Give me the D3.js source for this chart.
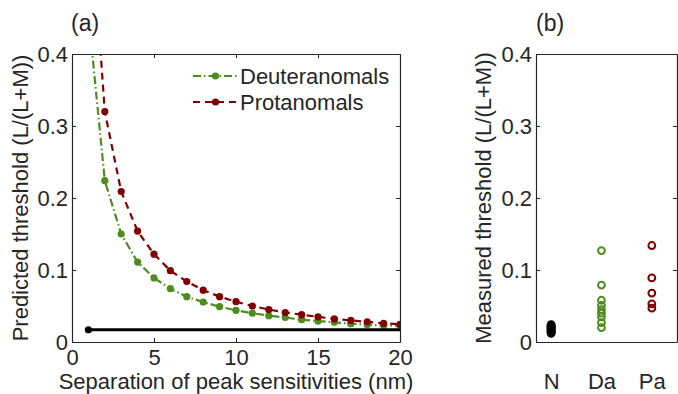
<!DOCTYPE html>
<html>
<head>
<meta charset="utf-8">
<script src="https://cdn.jsdelivr.net/npm/d3@7"></script>
<style>
  body { margin: 0; background: #fff; }
  svg text { font-family: "Liberation Sans", Arial, sans-serif; fill: #262626; }
</style>
</head>
<body>
<svg id="chart" width="678" height="394"></svg>
<script>
// separation of peak sensitivities (nm)
const separation = d3.range(1, 21);
const deuteranomals = [0.455, 0.224, 0.150, 0.111, 0.089, 0.074, 0.063, 0.0555, 0.049, 0.044,
  0.040, 0.0366, 0.034, 0.031, 0.029, 0.0273, 0.0255, 0.024, 0.023, 0.0226];
const protanomals = [0.64, 0.320, 0.209, 0.154, 0.122, 0.099, 0.084, 0.072, 0.063, 0.056,
  0.050, 0.045, 0.041, 0.038, 0.035, 0.032, 0.030, 0.028, 0.026, 0.0245];
const normalX = [1, 20];
const normalLevel = 0.017;

// measured thresholds
const groups = ['N', 'Da', 'Pa'];
const measuredN = [0.012, 0.013, 0.014, 0.015, 0.016, 0.017, 0.018, 0.019, 0.020, 0.021, 0.022, 0.023, 0.024];
const measuredDa = [0.127, 0.079, 0.058, 0.051, 0.045, 0.040, 0.035, 0.027, 0.020];
const measuredPa = [0.134, 0.089, 0.068, 0.053, 0.047];

const yTicks = [0, 0.1, 0.2, 0.3, 0.4];
const xTicks = [0, 5, 10, 15, 20];

const green = '#4d8c1f';
const red = '#800000';
const ink = '#262626';

const svg = d3.select('#chart');

const fmt = d => d === 0 ? '0' : d3.format('.1f')(d);

// box axes with inward ticks on all four sides
function box(g, x, y, xt, yt, xPad, showXTicks) {
  const [x0, x1] = x.range();
  const [y0, y1] = y.range();
  g.append('g').attr('transform', `translate(0,${y0})`)
    .call(d3.axisBottom(x).tickValues(xt).tickSizeInner(showXTicks ? -4 : 0).tickSizeOuter(0).tickPadding(xPad)
      .tickFormat((d, i) => showXTicks ? d : groups[i]));
  g.append('g').attr('transform', `translate(0,${y1})`)
    .call(d3.axisTop(x).tickValues(showXTicks ? xt : []).tickSizeInner(-4).tickSizeOuter(0).tickFormat(''));
  g.append('g').attr('transform', `translate(${x0},0)`)
    .call(d3.axisLeft(y).tickValues(yt).tickSizeInner(-4).tickSizeOuter(0).tickPadding(4).tickFormat(fmt));
  g.append('g').attr('transform', `translate(${x1},0)`)
    .call(d3.axisRight(y).tickValues(yt).tickSizeInner(-4).tickSizeOuter(0).tickFormat(''));
  g.selectAll('.domain').attr('stroke', ink).attr('stroke-width', 1.2);
  g.selectAll('.tick line').attr('stroke', ink);
  g.selectAll('.tick text').style('font-size', '22px').attr('fill', ink);
}

// ---- panel (a)
const xa = d3.scaleLinear().domain([0, 20]).range([72, 400]);
const ya = d3.scaleLinear().domain([0, 0.4]).range([342, 54]);

svg.append('defs').append('clipPath').attr('id', 'clipA')
  .append('rect').attr('x', 72).attr('y', 54).attr('width', 328).attr('height', 288);

const ga = svg.append('g');
box(ga, xa, ya, xTicks, yTicks, 7, true);

const plotA = ga.append('g').attr('clip-path', 'url(#clipA)');
const line = d3.line().x(d => xa(d[0])).y(d => ya(d[1]));

const series = [
  { name: 'Deuteranomals', values: deuteranomals, color: green, dash: '8,3,1.5,3' },
  { name: 'Protanomals', values: protanomals, color: red, dash: '7,5' }
];

series.forEach(s => {
  const pts = separation.map((x, i) => [x, s.values[i]]);
  plotA.append('path').datum(pts).attr('d', line)
    .attr('fill', 'none').attr('stroke', s.color).attr('stroke-width', 2.2)
    .attr('stroke-dasharray', s.dash);
  plotA.selectAll(null).data(pts).enter().append('circle')
    .attr('cx', d => xa(d[0])).attr('cy', d => ya(d[1])).attr('r', 3.6)
    .attr('fill', s.color);
});

plotA.append('path').datum(normalX.map(x => [x, normalLevel])).attr('d', line)
  .attr('fill', 'none').attr('stroke', '#000').attr('stroke-width', 3.2);
plotA.append('circle').attr('cx', xa(normalX[0])).attr('cy', ya(normalLevel)).attr('r', 3.6).attr('fill', '#000');

// legend
const legend = ga.append('g').attr('transform', 'translate(193,76)');
series.forEach((s, i) => {
  const row = legend.append('g').attr('transform', `translate(0,${i * 26})`);
  row.append('line').attr('x1', 0).attr('x2', 45).attr('y1', 0).attr('y2', 0)
    .attr('stroke', s.color).attr('stroke-width', 2.2).attr('stroke-dasharray', s.dash);
  row.append('circle').attr('cx', 22.5).attr('cy', 0).attr('r', 3.6).attr('fill', s.color);
  row.append('text').attr('x', 47).attr('y', 8).style('font-size', '22px').text(s.name);
});

ga.append('text').attr('x', 236).attr('y', 389).attr('text-anchor', 'middle')
  .style('font-size', '22px').text('Separation of peak sensitivities (nm)');
ga.append('text').attr('transform', 'translate(28,198) rotate(-90)').attr('text-anchor', 'middle')
  .style('font-size', '22px').text('Predicted threshold (L/(L+M))');
ga.append('text').attr('x', 71).attr('y', 31).style('font-size', '23px').text('(a)');

// ---- panel (b)
const xb = d3.scaleLinear().domain([0.7, 3.5]).range([536, 677]);
const yb = d3.scaleLinear().domain([0, 0.4]).range([342, 54]);

const gb = svg.append('g');
box(gb, xb, yb, [1, 2, 3], yTicks, 31, false);

const measured = [
  { values: measuredN, color: '#000' },
  { values: measuredDa, color: green },
  { values: measuredPa, color: red }
];
measured.forEach((m, i) => {
  gb.selectAll(null).data(m.values).enter().append('circle')
    .attr('cx', xb(i + 1)).attr('cy', d => yb(d)).attr('r', 3.4)
    .attr('fill', 'none').attr('stroke', m.color).attr('stroke-width', 2);
});

gb.append('text').attr('transform', 'translate(491,198) rotate(-90)').attr('text-anchor', 'middle')
  .style('font-size', '22px').text('Measured threshold (L/(L+M))');
gb.append('text').attr('x', 536).attr('y', 31).style('font-size', '23px').text('(b)');
</script>
</body>
</html>
